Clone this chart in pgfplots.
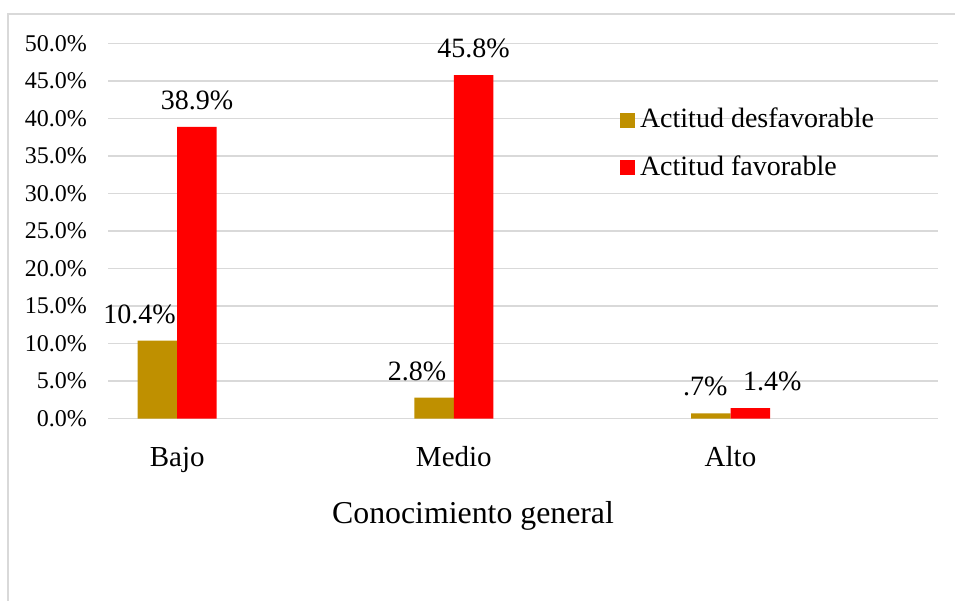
\documentclass[border=0pt]{standalone}
\usepackage{pgfplots}
\usepackage{pgfplotstable}
\pgfplotsset{compat=1.18}
\usepackage{fontspec}
\setmainfont{Liberation Serif}
\definecolor{gold}{HTML}{BF9000}
\definecolor{barred}{HTML}{FF0000}
\definecolor{gridgray}{HTML}{D9D9D9}

\pgfplotstableread{
x y lbl dx
0 10.4 10.4 -18
1 2.8 2.8 -17
2 0.7 .7 -5.5
}\desf
\pgfplotstableread{
x y lbl dx
0 38.9 38.9 0
1 45.8 45.8 0
2 1.4 1.4 22
}\fav

\begin{document}
\begin{tikzpicture}
\begin{axis}[
  scale only axis,
  width=830bp, height=375bp,
  at={(108bp,-418.5bp)}, anchor=south west,
  xmin=-0.25, xmax=2.75,
  ymin=0, ymax=50,
  ybar, bar width=39.5bp,
  /pgf/number format/assume math mode=true,
  axis line style={draw=none},
  tick style={draw=none},
  ymajorgrids,
  grid style={gridgray, line width=1.5bp},
  ytick={0,5,...,50},
  yticklabels={0.0\%,5.0\%,10.0\%,15.0\%,20.0\%,25.0\%,30.0\%,35.0\%,40.0\%,45.0\%,50.0\%},
  yticklabel style={font=\fontsize{24bp}{27bp}\selectfont, inner sep=0pt, anchor=east, xshift=-21bp},
  xtick={0,1,2},
  xticklabels={Bajo,Medio,Alto},
  xticklabel style={font=\fontsize{29bp}{33bp}\selectfont, inner sep=0pt, anchor=base, yshift=-44bp},
  xlabel={Conocimiento general},
  xlabel style={at={(rel axis cs:0.4398,0)}, anchor=base, yshift=-104.5bp, inner sep=0pt, font=\fontsize{31.8bp}{36bp}\selectfont},
  point meta=explicit symbolic,
  nodes near coords={\pgfplotspointmeta\%},
  nodes near coords style={font=\fontsize{28bp}{32bp}\selectfont, anchor=base, inner sep=0pt, yshift=17.5bp},
  visualization depends on={\thisrow{dx} \as \dx},
  every node near coord/.append style={xshift=\dx bp},
  legend image code/.code={\fill[#1] (0bp,-9bp) rectangle (15bp,6bp);},
  legend cell align=left,
  legend style={draw=none, fill=none, inner sep=0pt, outer sep=0pt,
    at={(rel axis cs:0.6169,0.8275)}, anchor=north west,
    font=\fontsize{28bp}{32bp}\selectfont,
    nodes={inner sep=0pt},
    column sep=5bp, row sep=26bp},
]
\addplot[fill=gold, draw=none, bar shift=-19.75bp] table[x=x, y=y, meta=lbl] {\desf};
\addlegendentry{Actitud desfavorable}
\addplot[fill=barred, draw=none, bar shift=19.75bp] table[x=x, y=y, meta=lbl] {\fav};
\addlegendentry{Actitud favorable}
\end{axis}
\draw[gridgray, line width=1.5bp] (8bp,-610bp) -- (8bp,-14bp) -- (965bp,-14bp);
\pgfresetboundingbox
\useasboundingbox (0bp,0bp) rectangle (955bp,-601bp);
\end{tikzpicture}
\end{document}
